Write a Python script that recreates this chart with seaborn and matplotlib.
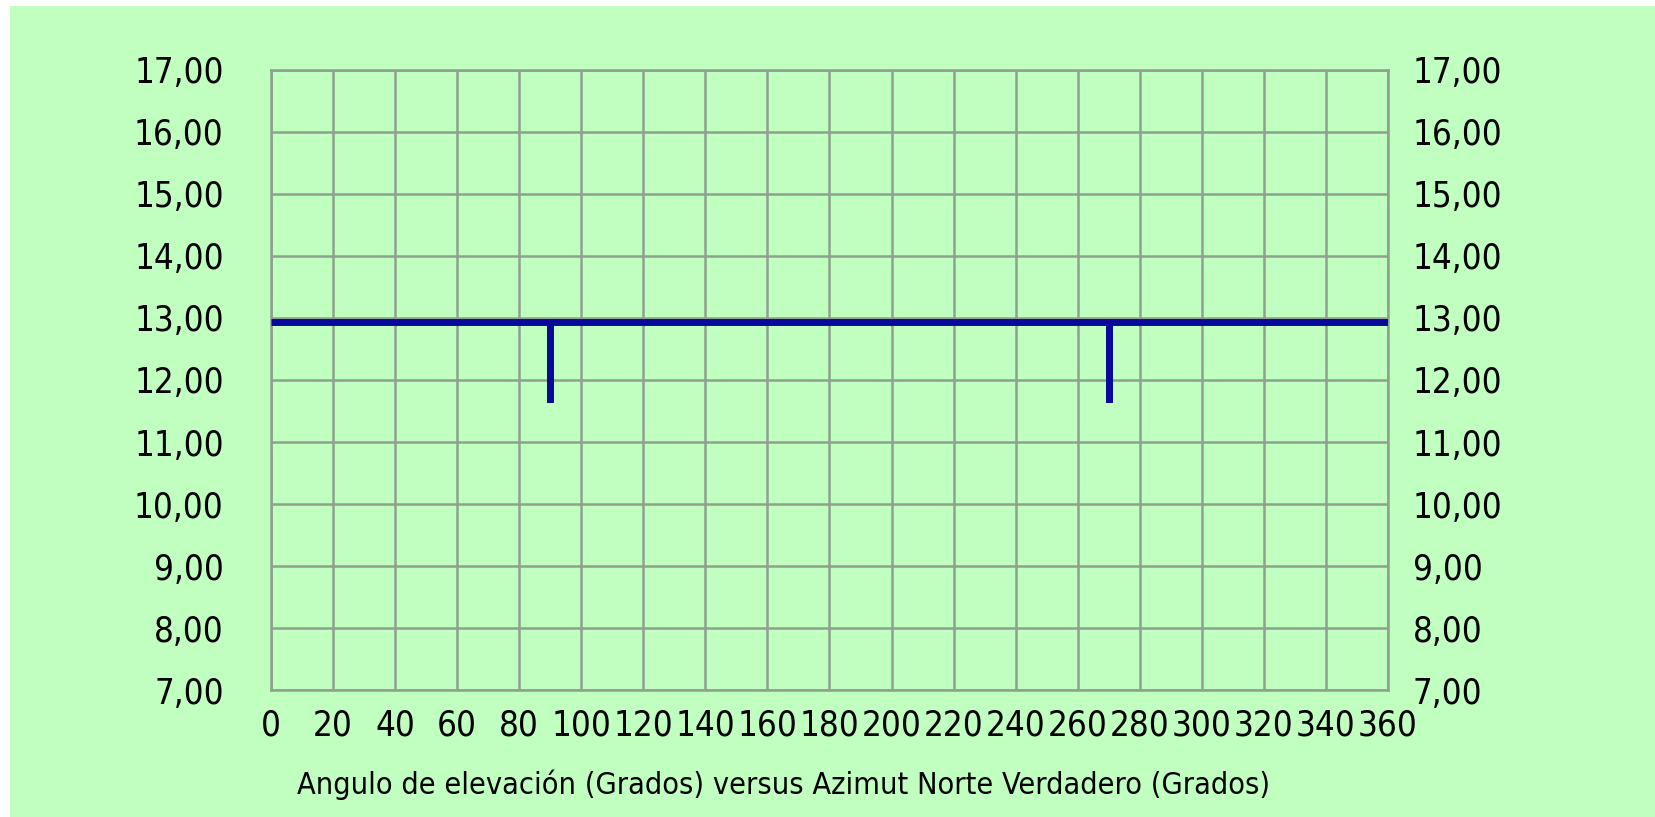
import numpy as np
import pandas as pd
import seaborn as sns
import matplotlib.pyplot as plt
from matplotlib.patches import Rectangle
from matplotlib.ticker import FuncFormatter

# data
azimut = [0, 90, 90, 90, 270, 270, 270, 360]
elevacion = [12.94, 12.94, 11.65, 12.94, 12.94, 11.65, 12.94, 12.94]
x_ticks = list(range(0, 361, 20))
y_ticks = list(range(7, 18))

bg = "#c0ffc0"
grid_col = "#8fa08f"
line_col = "#0a0a9a"

sns.set_style("white")
plt.rcParams["font.family"] = ["DejaVu Sans"]
plt.rcParams["font.stretch"] = "condensed"
plt.rcParams["text.color"] = "black"
plt.rcParams["xtick.color"] = "black"
plt.rcParams["ytick.color"] = "black"
plt.rcParams["axes.labelcolor"] = "black"

fig = plt.figure(figsize=(16.56, 8.17), dpi=100, facecolor="white")
fig.patches.append(Rectangle((10 / 1656, -0.01), 1.01, 1.01 - 6 / 817, transform=fig.transFigure,
                             facecolor=bg, edgecolor="none", zorder=-10))

ax = fig.add_axes([271 / 1656, 1 - 690 / 817, (1388 - 271) / 1656, (690 - 70) / 817])
ax.set_facecolor(bg)

df = pd.DataFrame({"azimut": azimut, "elevacion": elevacion})
sns.lineplot(data=df, x="azimut", y="elevacion", sort=False, estimator=None,
             color=line_col, linewidth=5, ax=ax, solid_capstyle="butt",
             solid_joinstyle="miter", zorder=3)

fmt = FuncFormatter(lambda v, p: f"{v:.2f}".replace(".", ","))
ax.set_xlim(0, 360)
ax.set_ylim(7, 17)
ax.set_xticks(x_ticks)
ax.set_yticks(y_ticks)
ax.yaxis.set_major_formatter(fmt)
ax.grid(True, color=grid_col, linewidth=1.8)
for s in ax.spines.values():
    s.set_color(grid_col)
    s.set_linewidth(1.8)
ax.tick_params(axis="y", length=0, pad=34, labelsize=25)
ax.tick_params(axis="x", length=0, pad=13, labelsize=25)
ax.set_ylabel("")
ax.set_xlabel("Angulo de elevación (Grados) versus Azimut Norte Verdadero (Grados)", fontsize=22)
ax.xaxis.set_label_coords((784 - 271) / (1388 - 271), -(794 - 690) / (690 - 70), transform=ax.transAxes)
ax.xaxis.label.set_va("baseline")

ax2 = ax.twinx()
ax2.set_ylim(7, 17)
ax2.set_yticks(y_ticks)
ax2.yaxis.set_major_formatter(fmt)
ax2.tick_params(axis="y", length=0, pad=18, labelsize=25)
for s in ax2.spines.values():
    s.set_visible(False)

fig.savefig("out.png", dpi=100, facecolor="white")
